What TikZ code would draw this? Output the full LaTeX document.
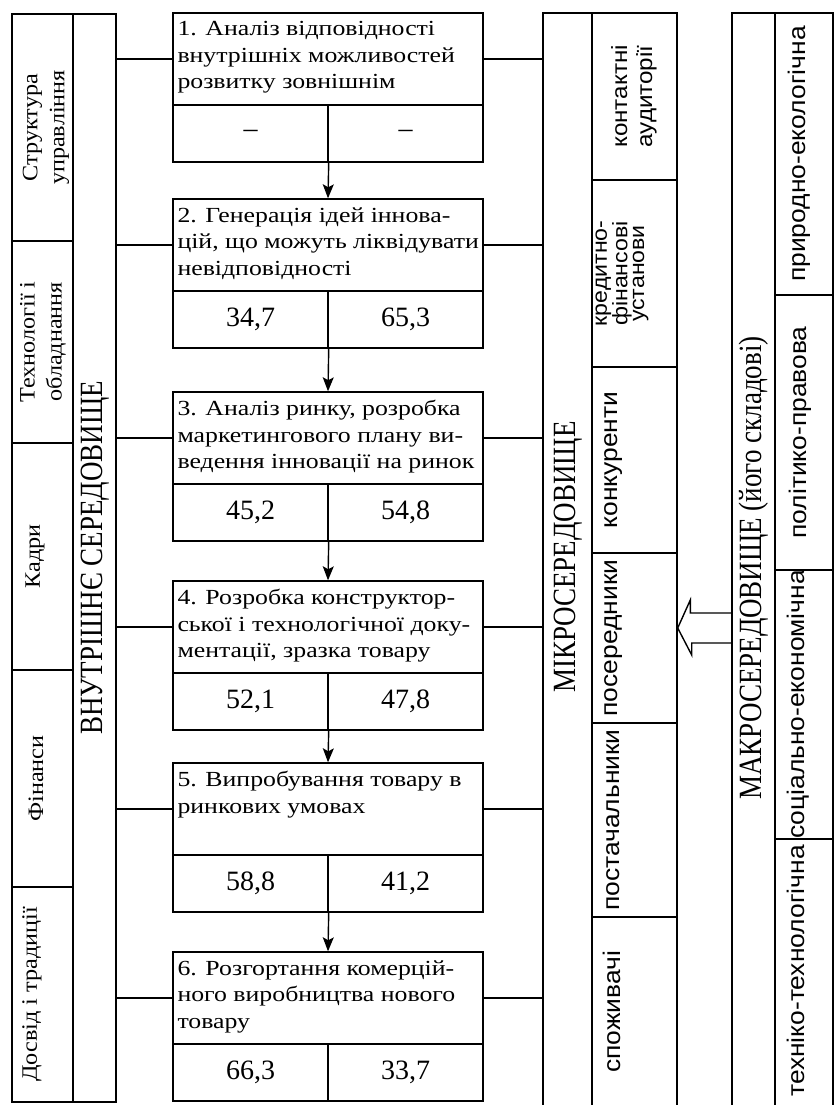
\documentclass[tikz,border=0pt]{standalone}
\usepackage{fontspec}
\setmainfont{Liberation Serif}
\newfontfamily\steprm[FakeStretch=1.2]{Liberation Serif}
\newfontfamily\itemrm[FakeStretch=1.1]{Liberation Serif}
\newfontfamily\itemsf[FakeStretch=1.1]{Liberation Sans}
\usetikzlibrary{arrows.meta}

\begin{document}
\begin{tikzpicture}[x=1pt, y=-1pt,
			framebox/.style={rectangle, draw=black, line width=1.4pt, inner sep=0pt},
			leftcell/.style={framebox, minimum width=61pt},
			stepbox/.style={framebox, minimum width=310pt, minimum height=92pt},
			cellbox/.style={framebox, minimum width=155pt, minimum height=57pt, font=\fontsize{28}{28}\selectfont},
			microcell/.style={framebox, minimum width=85pt},
			macrocell/.style={framebox, minimum width=58pt},
			steptext/.style={anchor=north west, align=left, inner sep=0pt, font=\steprm\fontsize{21.5}{26.5}\selectfont},
			biglabel/.style={xscale=1.2, rotate=90, inner sep=0pt, font=\fontsize{27}{27}\selectfont},
			rmlabel/.style={rotate=90, align=center, inner sep=0pt, font=\itemrm\fontsize{22}{27}\selectfont},
			sflabel/.style={rotate=90, align=center, inner sep=0pt, font=\itemsf\fontsize{24}{25}\selectfont},
			link/.style={line width=1.4pt},
			flowarrow/.style={line width=1.4pt, -{Stealth[length=14pt, width=11pt, inset=3pt]}},
			]
\useasboundingbox (0,0) rectangle (835,1105);

% internal environment
\node[leftcell, minimum height=227pt] (kstruct) at (42.5,127.5) {};
\node[leftcell, minimum height=202pt] (ktech) at (42.5,342) {};
\node[leftcell, minimum height=227pt] (kstaff) at (42.5,556.5) {};
\node[leftcell, minimum height=217pt] (kfin) at (42.5,778.5) {};
\node[leftcell, minimum height=215pt] (kexp) at (42.5,994.5) {};
\node[rmlabel] (lstruct) at (46,127.5) {Структура\\управління};
\node[rmlabel] (ltech) at (43,342) {Технології і\\обладнання};
\node[rmlabel] (lstaff) at (35,556.5) {Кадри};
\node[rmlabel] (lfin) at (36,778.5) {Фінанси};
\node[rmlabel] (lexp) at (32,994.5) {Досвід і традиції};
\node[framebox, minimum width=43pt, minimum height=1088pt] (inner) at (94.5,558) {};
\node[biglabel] (linner) at (95,558) {ВНУТРІШНЄ СЕРЕДОВИЩЕ};

% stages
\node[stepbox] (s1) at (328,59) {};
\node[steptext] (t1) at ([xshift=5pt,yshift=-9pt]s1.north west) {1. Аналіз відповідності\\внутрішніх можливостей\\розвитку зовнішнім};
\node[cellbox] (c1a) at (250.5,133.5) {--};
\node[cellbox] (c1b) at (405.5,133.5) {--};
\node[stepbox] (s2) at (328,245) {};
\node[steptext] (t2) at ([xshift=5pt,yshift=-9pt]s2.north west) {2. Генерація ідей іннова-\\цій, що можуть ліквідувати\\невідповідності};
\node[cellbox] (c2a) at (250.5,319.5) {34,7};
\node[cellbox] (c2b) at (405.5,319.5) {65,3};
\node[stepbox] (s3) at (328,438) {};
\node[steptext] (t3) at ([xshift=5pt,yshift=-9pt]s3.north west) {3. Аналіз ринку, розробка\\маркетингового плану ви-\\ведення інновації на ринок};
\node[cellbox] (c3a) at (250.5,512.5) {45,2};
\node[cellbox] (c3b) at (405.5,512.5) {54,8};
\node[stepbox] (s4) at (328,627) {};
\node[steptext] (t4) at ([xshift=5pt,yshift=-9pt]s4.north west) {4. Розробка конструктор-\\ської і технологічної доку-\\ментації, зразка товару};
\node[cellbox] (c4a) at (250.5,701.5) {52,1};
\node[cellbox] (c4b) at (405.5,701.5) {47,8};
\node[stepbox] (s5) at (328,809) {};
\node[steptext] (t5) at ([xshift=5pt,yshift=-9pt]s5.north west) {5. Випробування товару в\\ринкових умовах};
\node[cellbox] (c5a) at (250.5,883.5) {58,8};
\node[cellbox] (c5b) at (405.5,883.5) {41,2};
\node[stepbox] (s6) at (328,998) {};
\node[steptext] (t6) at ([xshift=5pt,yshift=-9pt]s6.north west) {6. Розгортання комерцій-\\ного виробництва нового\\товару};
\node[cellbox] (c6a) at (250.5,1072.5) {66,3};
\node[cellbox] (c6b) at (405.5,1072.5) {33,7};

\draw[flowarrow] (c1a.south east) -- (s2.north);
\draw[flowarrow] (c2a.south east) -- (s3.north);
\draw[flowarrow] (c3a.south east) -- (s4.north);
\draw[flowarrow] (c4a.south east) -- (s5.north);
\draw[flowarrow] (c5a.south east) -- (s6.north);

% micro environment
\node[framebox, minimum width=49pt, minimum height=1097pt] (micro) at (567.5,561.5) {};
\node[biglabel] (lmicro) at (568,557) {МІКРОСЕРЕДОВИЩЕ};
\node[microcell, minimum height=167pt] (mcontact) at (634.5,96.5) {};
\node[microcell, minimum height=187pt] (mcredit) at (634.5,273.5) {};
\node[microcell, minimum height=186pt] (mcompet) at (634.5,460) {};
\node[microcell, minimum height=170pt] (mmiddle) at (634.5,638) {};
\node[microcell, minimum height=194pt] (msupply) at (634.5,820) {};
\node[microcell, minimum height=193pt] (mcustom) at (634.5,1013.5) {};
\node[sflabel, font=\itemsf\fontsize{22}{25}\selectfont] (lcontact) at (634,96.5) {контактні\\аудиторії};
\node[sflabel, font=\itemsf\fontsize{21}{15.5}\selectfont] (lcredit) at (622,273.5) {кредитно-\\фінансові\\установи};
\node[sflabel] (lcompet) at (614,460) {конкуренти};
\node[sflabel] (lmiddle) at (614,638) {посередники};
\node[sflabel] (lsupply) at (613,820) {постачальники};
\node[sflabel] (lcustom) at (612,1012) {споживачі};

% macro environment
\node[framebox, minimum width=43pt, minimum height=1097pt] (macro) at (753.5,561.5) {};
\node[biglabel] (lmacro) at (754,568) {МАКРОСЕРЕДОВИЩЕ (його складові)};
\node[macrocell, minimum height=282pt] (nature) at (804,154) {};
\node[macrocell, minimum height=275pt] (politic) at (804,432.5) {};
\node[macrocell, minimum height=269pt] (social) at (804,704.5) {};
\node[macrocell, minimum height=271pt] (techno) at (804,974.5) {};
\node[sflabel] (lnature) at (799,154) {природно-екологічна};
\node[sflabel] (lpolitic) at (800,432.5) {політико-правова};
\node[sflabel] (lsocial) at (798,704.5) {соціально-економічна};
\node[sflabel] (ltechno) at (796,971) {техніко-технологічна};

% links
\draw[link] (inner.east |- s1.west) -- (s1.west);
\draw[link] (inner.east |- s2.west) -- (s2.west);
\draw[link] (inner.east |- s3.west) -- (s3.west);
\draw[link] (inner.east |- s4.west) -- (s4.west);
\draw[link] (inner.east |- s5.west) -- (s5.west);
\draw[link] (inner.east |- s6.west) -- (s6.west);
\draw[link] (s1.east) -- (s1.east -| micro.west);
\draw[link] (s2.east) -- (s2.east -| micro.west);
\draw[link] (s3.east) -- (s3.east -| micro.west);
\draw[link] (s4.east) -- (s4.east -| micro.west);
\draw[link] (s5.east) -- (s5.east -| micro.west);
\draw[link] (s6.east) -- (s6.east -| micro.west);

% hollow arrow macro -> micro
\draw[link] (macro.west |- 0,613) -- ++(-41,0) -- ++(0,-13) -- (mmiddle.east |- 0,628) -- ++(14,27) -- ++(0,-12) -- (macro.west |- 0,643);

\end{tikzpicture}
\end{document}
